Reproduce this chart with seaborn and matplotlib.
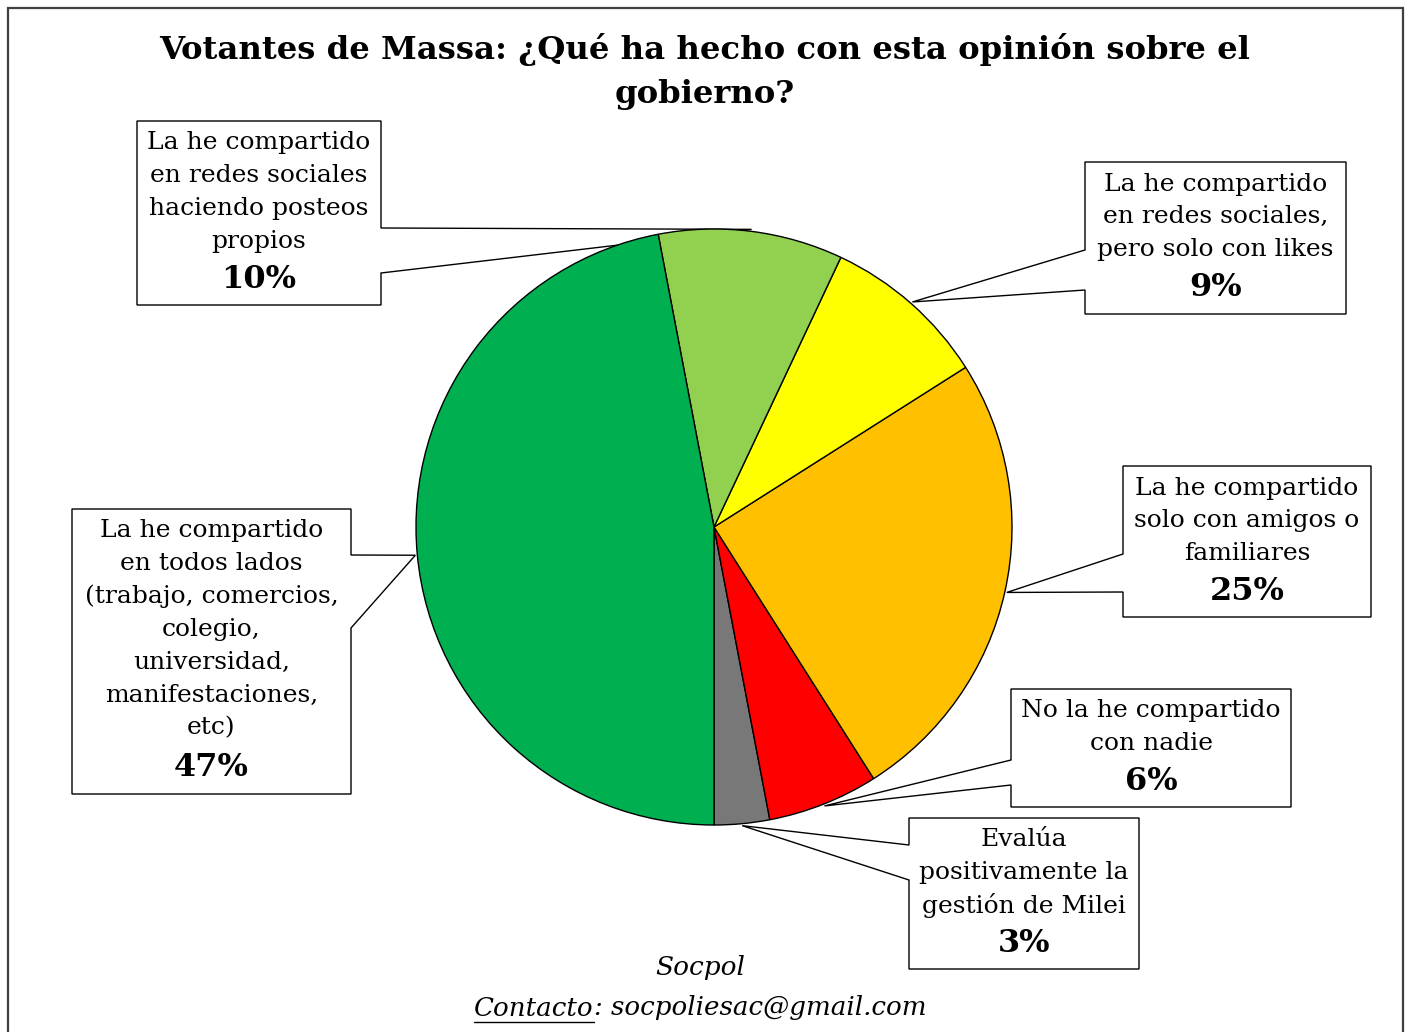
import matplotlib
matplotlib.use('Agg')
import matplotlib.pyplot as plt
import seaborn as sns
import numpy as np
from matplotlib.patches import Polygon

# datos
categorias = [
    ['Evalúa', 'positivamente la', 'gestión de Milei'],
    ['No la he compartido', 'con nadie'],
    ['La he compartido', 'solo con amigos o', 'familiares'],
    ['La he compartido', 'en redes sociales,', 'pero solo con likes'],
    ['La he compartido', 'en redes sociales', 'haciendo posteos', 'propios'],
    ['La he compartido', 'en todos lados', '(trabajo, comercios,', 'colegio,',
     'universidad,', 'manifestaciones,', 'etc)'],
]
porcentajes = [3, 6, 25, 9, 10, 47]
colores = ['#787878', '#FF0000', '#FFC000', '#FFFF00', '#92D050', '#00B050']

TITULO = ['Votantes de Massa: ¿Qué ha hecho con esta opinión sobre el',
          'gobierno?']

W, H = 1407, 1032
CX, CY, R = 714, 527, 298

# cajas (x0, y0, x1, y1, lado, a, b) en pixeles desde arriba
cajas = [
    (909, 818, 1139, 969, 'left', 845, 880),
    (1011, 689, 1291, 807, 'left', 760, 785),
    (1123, 466, 1371, 617, 'left', 554, 592),
    (1085, 162, 1346, 314, 'left', 250, 290),
    (137, 121, 381, 305, 'right', 228, 273),
    (72, 509, 351, 794, 'right', 555, 628),
]

sns.set_style('white')
plt.rcParams['font.family'] = ['DejaVu Serif']


def Y(y):
    return H - y


fig = plt.figure(figsize=(W / 100, H / 100), dpi=100)
ax = fig.add_axes([0, 0, 1, 1])

pal = sns.color_palette(colores)
wedges, _ = ax.pie(porcentajes, colors=pal, startangle=270, counterclock=True,
                   center=(CX, Y(CY)), radius=R,
                   wedgeprops=dict(edgecolor='black', linewidth=1.0, zorder=3))
ax.set_xlim(0, W)
ax.set_ylim(0, H)
ax.axis('off')

FS = 18
PITCH = 32.8
for w, lineas, pct, (x0, y0, x1, y1, lado, a, b) in zip(wedges, categorias, porcentajes, cajas):
    mid = np.deg2rad((w.theta1 + w.theta2) / 2)
    tip = (CX + (R + 2) * np.cos(mid), Y(CY) + (R + 2) * np.sin(mid))
    if lado == 'right':
        pts = [(x0, Y(y0)), (x1, Y(y0)), (x1, Y(a)), tip, (x1, Y(b)),
               (x1, Y(y1)), (x0, Y(y1))]
    else:
        pts = [(x0, Y(y0)), (x1, Y(y0)), (x1, Y(y1)), (x0, Y(y1)),
               (x0, Y(b)), tip, (x0, Y(a))]
    ax.add_patch(Polygon(pts, closed=True, facecolor='white', edgecolor='black',
                         linewidth=1.0, zorder=2))
    xc = (x0 + x1) / 2
    for i, ln in enumerate(lineas):
        ax.text(xc, Y(y0 + 22 + i * PITCH), ln, ha='center', va='center',
                fontsize=FS, color='black', zorder=5)
    ax.text(xc, Y(y1 - 26), f'{pct}%', ha='center', va='center',
            fontsize=23, fontweight='bold', color='black', zorder=5)

# titulo
for ty, linea in zip([50, 95], TITULO):
    ax.text(705, Y(ty), linea, ha='center', va='center', fontsize=23.2,
            fontweight='bold', color='black')

# pie de pagina
ax.text(700, Y(968), 'Socpol', ha='center', va='center', fontsize=19,
        style='italic', color='black')
renderer = fig.canvas.get_renderer()
t1 = ax.text(0, Y(1008), 'Contacto', ha='left', va='center', fontsize=18.8,
             style='italic', color='black')
t2 = ax.text(0, Y(1008), ': socpoliesac@gmail.com', ha='left', va='center',
             fontsize=18.8, style='italic', color='black')
w1 = t1.get_window_extent(renderer).width
w2 = t2.get_window_extent(renderer).width
xs = 700 - (w1 + w2) / 2
t1.set_x(xs)
t2.set_x(xs + w1)
ax.plot([xs, xs + w1], [Y(1022), Y(1022)], color='black', lw=1.0)

# borde
ax.plot([8, 8, 1403, 1403], [0, Y(8), Y(8), 0], color='#404040', lw=1.6,
        solid_joinstyle='miter')

fig.savefig('out.png', dpi=100)
